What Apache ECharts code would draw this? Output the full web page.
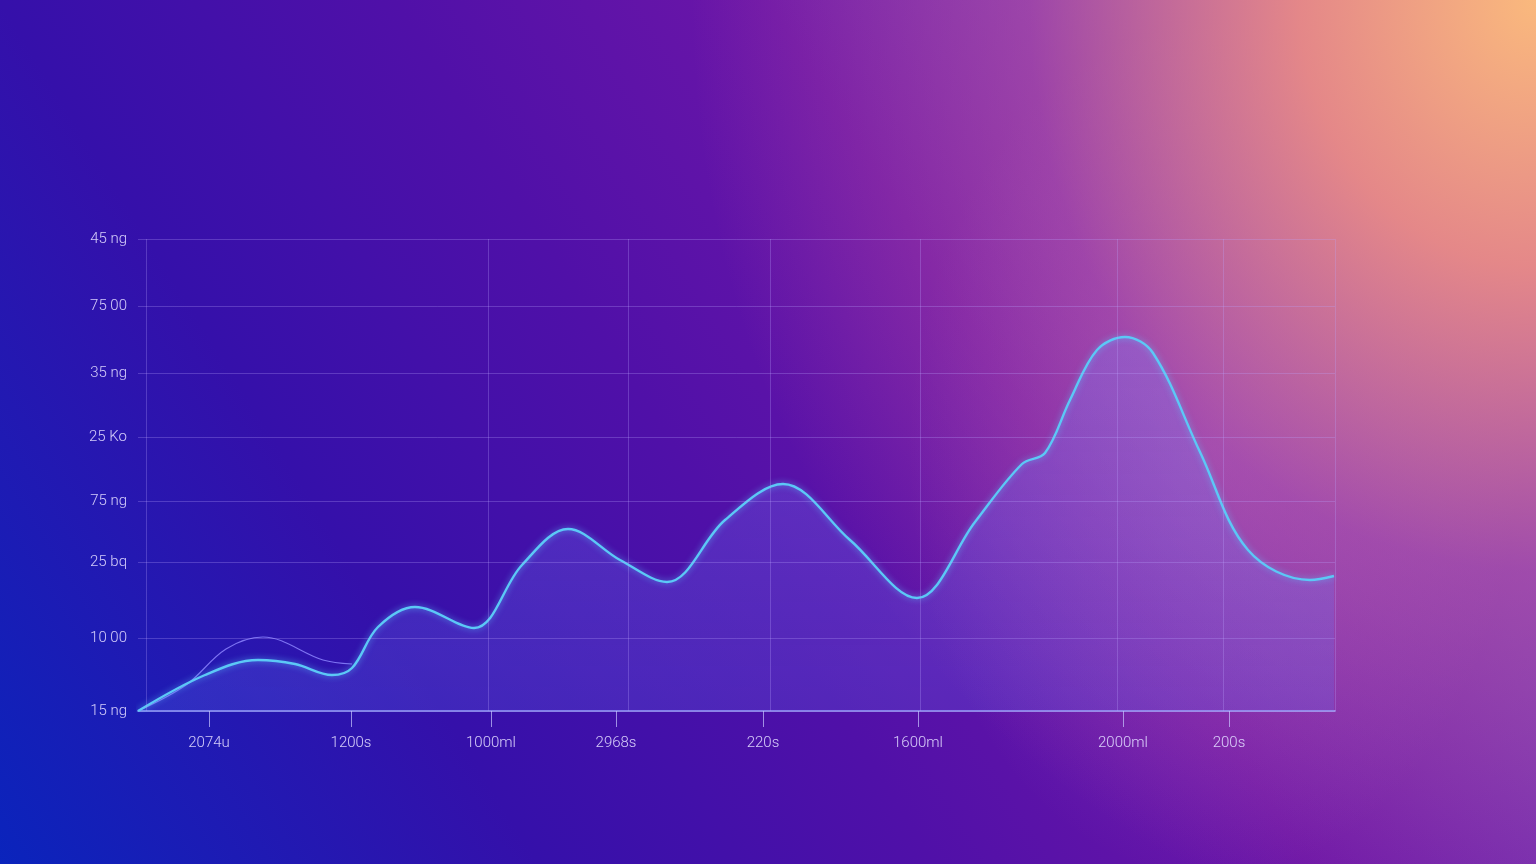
<!DOCTYPE html>
<html>
<head>
<meta charset="utf-8">
<script src="https://cdn.jsdelivr.net/npm/echarts@6/dist/echarts.min.js"></script>
<style>
html,body{margin:0;padding:0;width:1536px;height:864px;overflow:hidden;}
body{
  background:
    radial-gradient(ellipse 55% 110% at 100% 0%, rgba(250,185,125,1) 0%, rgba(242,145,130,0.88) 28%, rgba(205,95,160,0.45) 60%, rgba(180,70,170,0) 100%),
    radial-gradient(ellipse 20% 50% at 79% 52%, rgba(215,170,235,0.2) 0%, rgba(215,170,235,0) 100%),
    linear-gradient(58deg, #0a24bc 0%, #3510aa 26%, #5010a8 45%, #6c16a8 63%, #7838b4 80%, #8a50c0 100%);
}
#chart{width:1536px;height:864px;}
</style>
</head>
<body>
<div id="chart"></div>
<script>
// data points: x (axis units) and y values
const mainX = [-8, 59, 112, 149, 186, 206, 232, 269, 328, 376, 422, 474, 521, 579, 637, 704, 771, 829, 876, 899, 924, 951, 979, 1007, 1054, 1102, 1164, 1188];
const mainY = [0, 36, 51, 47, 36, 43, 84, 104, 83, 146, 182, 151, 129, 191, 227, 171, 113, 189, 247, 258, 311, 361, 374, 358, 259, 161, 131, 135];
const secX = [-8, 40, 80, 117, 177, 206];
const secY = [0, 26, 62, 74, 51, 47];

const xTickValues = [63, 205, 345, 470, 617, 772, 977, 1083];
const xTickLabels = ['2074u', '1200s', '1000ml', '2968s', '220s', '1600ml', '2000ml', '200s'];
const xGridValues = [0, 342, 482, 624, 774, 971, 1077, 1189];

const yTickValues = [0, 73, 149, 210, 274, 338, 405, 472];
const yTickLabels = ['15 ng', '10 00', '25 bq', '75 ng', '25 Ko', '35 ng', '75 00', '45 ng'];

const chart = echarts.init(document.getElementById('chart'), null, {renderer: 'canvas'});

const gridLine = {color: 'rgba(185,165,255,0.28)', width: 1, type: 'solid'};
const labelStyle = {color: 'rgba(225,218,255,0.92)', fontFamily: 'Roboto', fontWeight: 300, fontSize: 15};

chart.setOption({
  backgroundColor: 'transparent',
  animation: false,
  grid: {left: 138, top: 239, width: 1197, height: 472, containLabel: false},
  xAxis: {
    type: 'value', min: -8, max: 1189,
    splitLine: {show: false},
    axisLine: {show: true, lineStyle: {color: 'rgba(170,180,255,0.95)', width: 1.5}},
    axisTick: {show: true, customValues: xTickValues, length: 16, lineStyle: {color: 'rgba(200,200,255,0.7)', width: 1}},
    axisLabel: Object.assign({
      show: true, customValues: xTickValues, margin: 25,
      formatter: function (v) { const i = xTickValues.indexOf(v); return i >= 0 ? xTickLabels[i] : ''; }
    }, labelStyle)
  },
  yAxis: {
    type: 'value', min: 0, max: 472,
    splitLine: {show: false},
    axisLine: {show: false},
    axisTick: {show: false},
    axisLabel: Object.assign({
      show: true, customValues: yTickValues, margin: 11, padding: [0, 0, 7, 0],
      formatter: function (v) { const i = yTickValues.indexOf(v); return i >= 0 ? yTickLabels[i] : ''; }
    }, labelStyle)
  },
  series: [
    {
      type: 'line',
      data: secX.map((x, i) => [x, secY[i]]),
      smooth: 0.35,
      symbol: 'none',
      z: 3,
      lineStyle: {color: 'rgba(130,120,245,0.95)', width: 1.2}
    },
    {
      type: 'line',
      data: mainX.map((x, i) => [x, mainY[i]]),
      smooth: 0.35,
      symbol: 'none',
      z: 4,
      lineStyle: {color: '#5cc8f6', width: 2.4, shadowColor: 'rgba(90,200,255,0.7)', shadowBlur: 6},
      areaStyle: {
        color: new echarts.graphic.LinearGradient(0, 0, 0, 1, [
          {offset: 0, color: 'rgba(125,130,255,0.42)'},
          {offset: 1, color: 'rgba(100,115,245,0.32)'}
        ])
      },
      markLine: {
        silent: true,
        symbol: 'none',
        animation: false,
        label: {show: false},
        lineStyle: gridLine,
        data: yTickValues.slice(1).map(v => ({yAxis: v})).concat(xGridValues.map(v => ({xAxis: v})))
      }
    }
  ]
});
</script>
</body>
</html>
